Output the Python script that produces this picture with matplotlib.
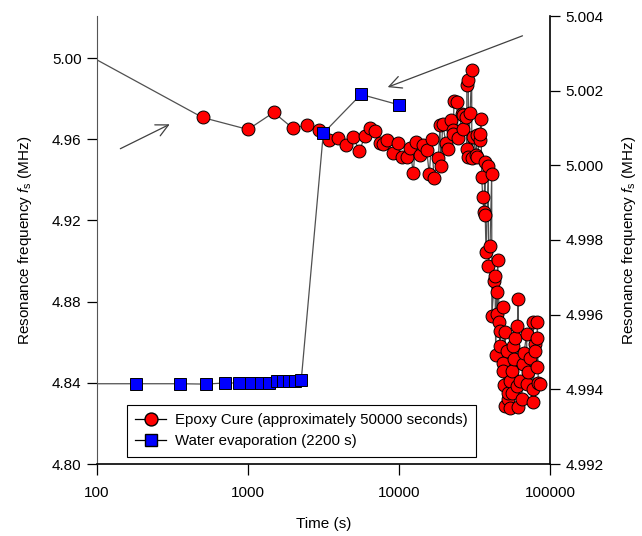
import matplotlib
matplotlib.use("Agg")
import matplotlib.pyplot as plt
from matplotlib.lines import Line2D

plt.rcParams['font.family'] = ['Liberation Sans', 'DejaVu Sans']
plt.rcParams['mathtext.fontset'] = 'custom'
plt.rcParams['mathtext.rm'] = 'Liberation Sans'
plt.rcParams['mathtext.it'] = 'Liberation Sans:italic'

# Epoxy cure (left axis)
epoxy_time = [80, 500, 1000, 1480, 1980, 2470, 2970, 3455, 3963, 4457, 4983, 5459, 5955,
              6426, 6936, 7485, 7870, 8365, 9126, 9894, 10390, 11300, 11825, 12435, 12865,
              13775, 14490, 15260, 15870, 16460, 17050, 18210, 18680, 18890, 19470, 20480,
              21210, 22100, 22680, 22890, 23130, 24110, 24700, 26020, 26420, 26660, 27780,
              28080, 28150, 28770, 28800, 29530, 30300, 30350, 31050, 32350, 32700, 32750,
              34390, 34500, 34910, 35290, 35840, 36560, 37120, 37250, 37690, 39040, 39100,
              40060, 41110, 41200, 42770, 43230, 43700, 44360, 44400, 45040, 46150, 46650,
              47000, 48630, 49070, 49150, 49600, 50350, 50450, 51900, 52700, 52940, 54340,
              54450, 55770, 55850, 56890, 57750, 58640, 60180, 60730, 61670, 61750, 63290,
              64950, 66560, 67270, 70110, 70200, 71840, 73700, 76810, 77520, 77600, 79560,
              79650, 81640, 81700, 82390, 83650, 85860]
epoxy_freq = [5.0030, 4.9707, 4.9648, 4.9732, 4.9654, 4.9671, 4.9644, 4.9595, 4.9608, 4.9570,
              4.9611, 4.9542, 4.9615, 4.9654, 4.9641, 4.9579, 4.9574, 4.9595, 4.9532, 4.9579,
              4.9513, 4.9513, 4.9556, 4.9432, 4.9585, 4.9521, 4.9570, 4.9546, 4.9427, 4.9603,
              4.9407, 4.9505, 4.9669, 4.9467, 4.9674, 4.9579, 4.9554, 4.9694, 4.9644, 4.9628,
              4.9789, 4.9784, 4.9608, 4.9723, 4.9648, 4.9719, 4.9707, 4.9554, 4.9867, 4.9891,
              4.9513, 4.9727, 4.9941, 4.9505, 4.9611, 4.9521, 4.9620, 4.9513, 4.9595, 4.9628,
              4.9702, 4.9414, 4.9315, 4.9241, 4.9488, 4.9225, 4.9043, 4.9467, 4.8973, 4.9072,
              4.9431, 4.8731, 4.8900, 4.8928, 4.8538, 4.8846, 4.8739, 4.9006, 4.8698, 4.8583,
              4.8656, 4.8775, 4.8500, 4.8459, 4.8389, 4.8648, 4.8286, 4.8558, 4.8321, 4.8352,
              4.8410, 4.8278, 4.8459, 4.8352, 4.8583, 4.8517, 4.8621, 4.8385, 4.8681, 4.8813,
              4.8281, 4.8410, 4.8320, 4.8492, 4.8548, 4.8641, 4.8394, 4.8451, 4.8523, 4.8303,
              4.8698, 4.8369, 4.8591, 4.8558, 4.8621, 4.8476, 4.8698, 4.8399, 4.8394]

# Water evaporation (right axis)
water_time = [80, 181, 355, 525, 701, 876, 1047, 1214, 1384, 1549, 1705, 1860, 2039, 2254,
              3153, 5601, 10000]
water_freq = [4.99415, 4.99415, 4.99415, 4.99414, 4.99417, 4.99417, 4.99417, 4.99417,
              4.99417, 4.99423, 4.99423, 4.99423, 4.99423, 4.99426, 5.00086, 5.00190, 5.00162]

left_ticks = [4.80, 4.84, 4.88, 4.92, 4.96, 5.00]
right_ticks = [4.992, 4.994, 4.996, 4.998, 5.000, 5.002, 5.004]
x_ticks = [100, 1000, 10000, 100000]

label_epoxy = 'Epoxy Cure (approximately 50000 seconds)'
label_water = 'Water evaporation (2200 s)'
ylabel = r'Resonance frequency $\it{f}_{\rm s}$ (MHz)'

fig = plt.figure(figsize=(6.42, 5.36), dpi=100)
ax = fig.add_axes([97/642, 72/536, 453/642, 448/536])
ax2 = ax.twinx()

line_kw = dict(color='#505050', linewidth=0.9)
ax.plot(epoxy_time, epoxy_freq, marker='o', markersize=9.3, markerfacecolor='#ff0000',
        markeredgecolor='black', markeredgewidth=0.7, **line_kw)
ax2.plot(water_time, water_freq, marker='s', markersize=8, markerfacecolor='#0000ff',
         markeredgecolor='black', markeredgewidth=0.7, **line_kw)

ax.set_xscale('log')
ax.set_xlim(100, 100000)
ax.set_ylim(4.80, 5.0207)
ax2.set_ylim(4.992, 5.004)
ax.set_xticks(x_ticks)
ax.set_xticklabels([str(v) for v in x_ticks])
ax.xaxis.set_minor_locator(matplotlib.ticker.NullLocator())
ax.set_yticks(left_ticks)
ax.set_yticklabels(['%.2f' % v for v in left_ticks])
ax2.set_yticks(right_ticks)
ax2.set_yticklabels(['%.3f' % v for v in right_ticks])

for a in (ax, ax2):
    a.spines['top'].set_visible(False)
    a.tick_params(axis='y', direction='out', length=7, width=0.9, labelsize=11,
                  color='black', pad=4)
ax.tick_params(axis='x', direction='out', length=8, width=0.9, labelsize=11,
               color='black', pad=8)
ax.spines['left'].set_color('#555555')
ax2.spines['left'].set_visible(False)
ax.spines['right'].set_visible(False)
ax2.spines['right'].set_linewidth(1.2)
ax.spines['bottom'].set_linewidth(1.2)
ax2.spines['bottom'].set_visible(False)

ax.set_xlabel('Time (s)', fontsize=11, labelpad=12)
ax.set_ylabel(ylabel, fontsize=11, labelpad=13)
ax2.set_ylabel(ylabel, fontsize=11, rotation=90, labelpad=12)

arrow_kw = dict(arrowstyle='->', color='#404040', lw=0.9, mutation_scale=22)
ax.annotate('', xy=(0.166, 0.761), xytext=(0.046, 0.701), xycoords='axes fraction',
            textcoords='axes fraction', arrowprops=arrow_kw)
ax.annotate('', xy=(0.636, 0.839), xytext=(0.945, 0.958), xycoords='axes fraction',
            textcoords='axes fraction', arrowprops=arrow_kw)

handles = [Line2D([], [], color='black', lw=0.9, marker='o', markersize=9.3,
                  markerfacecolor='#ff0000', markeredgecolor='black'),
           Line2D([], [], color='black', lw=0.9, marker='s', markersize=8,
                  markerfacecolor='#0000ff', markeredgecolor='black')]
leg = ax2.legend(handles, [label_epoxy, label_water], loc='lower left',
                 bbox_to_anchor=(0.049, 0.0), fontsize=10.8, frameon=True,
                 fancybox=False, edgecolor='black', framealpha=1, borderpad=0.55,
                 handlelength=2.1, handletextpad=0.55, labelspacing=0.5,
                 borderaxespad=0.5)
leg.get_frame().set_linewidth(0.8)

fig.savefig('out.png', dpi=100)
